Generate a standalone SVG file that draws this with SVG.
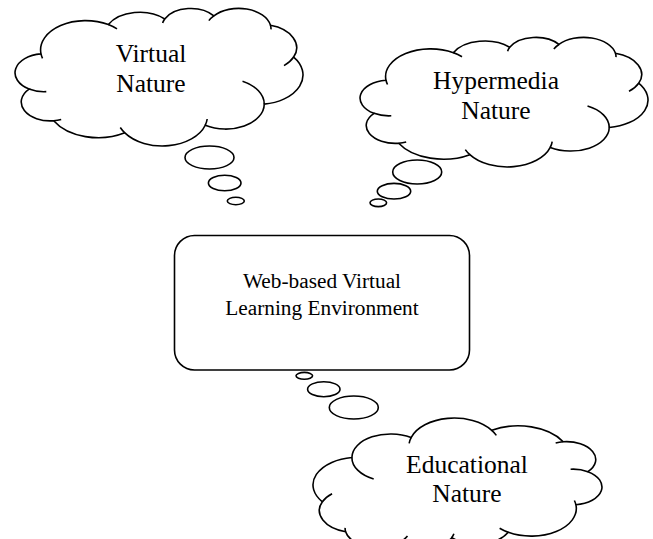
<svg xmlns="http://www.w3.org/2000/svg" xmlns:xlink="http://www.w3.org/1999/xlink" width="653" height="539" viewBox="0 0 653 539">
<style>
.ln{stroke:#000;stroke-width:1.6;vector-effect:non-scaling-stroke}
.body{fill:#fff}
.inner{fill:none}
.bub{fill:#fff;stroke:#000;stroke-width:1.6}
.box{fill:#fff;stroke:#000;stroke-width:1.6}
.t{font-family:"Liberation Serif","Times New Roman",serif;fill:#000;text-anchor:middle}
.tc{font-size:25.5px}
.tb{font-size:21.3px}
</style>
<defs>
<g id="cloud">
<path class="ln body" d="M3900,14370 A6753,9190 0 0 1 14005,5202 A5333,7267 0 0 1 22458,3435 A4365,5945 0 0 1 29835,2483 A4857,6595 0 0 1 38324,5426 A5333,7273 0 0 1 41798,15354 A6775,9220 0 0 1 37385,30098 A5785,7867 0 0 1 28536,36708 A6752,9215 0 0 1 16478,39090 A7720,10543 0 0 1 5803,35297 A4360,5918 0 0 1 2110,25377 A4345,5945 0 0 1 3900,14370 Z"/>
<path class="ln inner" d="M4693,26177 A4345,5945 0 0 1 2110,25377 M6928,34899 A4360,5918 0 0 1 5803,35297 M16478,39090 A6752,9215 0 0 1 15793,37419 M28827,34751 A6752,9215 0 0 1 28536,36708 M34129,22954 A5785,7867 0 0 1 37385,30098 M41798,15354 A5333,7273 0 0 1 40350,18030 M38324,5426 A4857,6595 0 0 1 38401,6689 M29078,3952 A4857,6595 0 0 1 29835,2483 M22141,4720 A4365,5945 0 0 1 22458,3435 M14000,5192 A6753,9190 0 0 1 15302,6543 M4127,15789 A6753,9190 0 0 1 3900,14370"/>
</g>
</defs>
<g id="virtual-nature">
<use href="#cloud" transform="translate(15,8) scale(0.0066667,0.0031944)"/>
<text class="t tc" x="151" y="62">Virtual</text>
<text class="t tc" x="151" y="92">Nature</text>
</g>
<g id="hypermedia-nature">
<use href="#cloud" transform="translate(360,37) scale(0.0066667,0.0030093)"/>
<text class="t tc" x="496" y="88.5">Hypermedia</text>
<text class="t tc" x="496" y="118.5">Nature</text>
</g>
<g id="educational-nature">
<use href="#cloud" transform="translate(602,548) scale(-0.0066898,-0.0030093)"/>
<text class="t tc" x="467" y="473">Educational</text>
<text class="t tc" x="467" y="502">Nature</text>
</g>
<g id="wvle">
<rect class="box" x="174.5" y="235.5" width="295" height="134.5" rx="20" ry="20"/>
<text class="t tb" x="322" y="288">Web-based Virtual</text>
<text class="t tb" x="322" y="315">Learning Environment</text>
</g>
<g id="connectors">
<ellipse class="bub" cx="209.5" cy="157.5" rx="24.5" ry="11.5"/>
<ellipse class="bub" cx="224.7" cy="183" rx="16.3" ry="7.8"/>
<ellipse class="bub" cx="235.8" cy="201" rx="8.5" ry="3.7"/>
<ellipse class="bub" cx="417.2" cy="172" rx="24.5" ry="12"/>
<ellipse class="bub" cx="394" cy="191.2" rx="16.7" ry="7.8"/>
<ellipse class="bub" cx="378.3" cy="202.8" rx="8.3" ry="3.8"/>
<ellipse class="bub" cx="304.3" cy="375.8" rx="8.3" ry="3.4"/>
<ellipse class="bub" cx="323.8" cy="389.2" rx="16.2" ry="7.5"/>
<ellipse class="bub" cx="353.8" cy="407.5" rx="24.5" ry="11.5"/>
</g>
</svg>
